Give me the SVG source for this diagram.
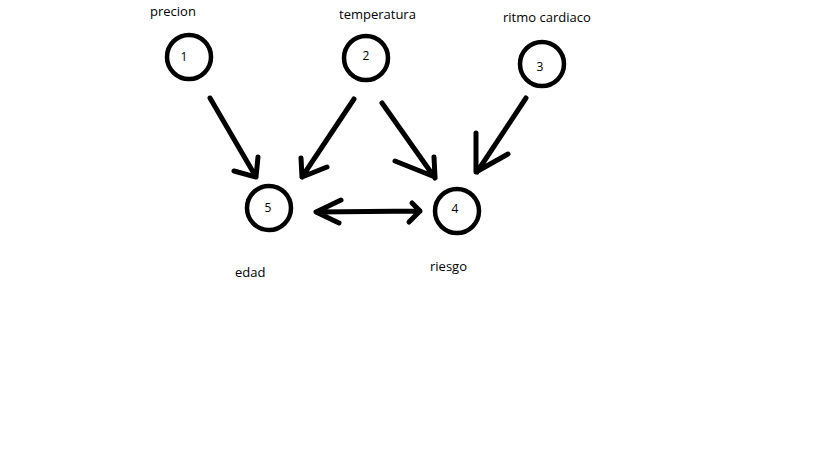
<svg xmlns="http://www.w3.org/2000/svg" width="819" height="460" viewBox="0 0 819 460">
<style>
.node{fill:none;stroke:#000;stroke-width:4.5}
.num{font-family:"Open Sans","Liberation Sans",sans-serif;font-size:12px;fill:#000;text-anchor:middle}
.lbl{font-family:"Open Sans","Liberation Sans",sans-serif;font-size:13px;fill:#000}
.edge{fill:none;stroke:#000;stroke-width:5;stroke-linecap:round;stroke-linejoin:round}
</style>
<rect width="819" height="460" fill="#fff"/>
<g id="node1"><circle class="node" cx="189" cy="57" r="22"/><text class="num" x="184" y="61">1</text><text class="lbl" x="150" y="16">precion</text></g>
<g id="node2"><circle class="node" cx="366" cy="58" r="22"/><text class="num" x="366" y="60">2</text><text class="lbl" x="339" y="19">temperatura</text></g>
<g id="node3"><circle class="node" cx="542" cy="64" r="22"/><text class="num" x="540" y="71">3</text><text class="lbl" x="503" y="22">ritmo cardiaco</text></g>
<g id="node5"><circle class="node" cx="269" cy="208" r="22"/><text class="num" x="268" y="212">5</text><text class="lbl" x="235" y="277">edad</text></g>
<g id="node4"><circle class="node" cx="457" cy="211" r="22"/><text class="num" x="455" y="213">4</text><text class="lbl" x="430" y="271">riesgo</text></g>
<g id="connectors">
<path class="edge" d="M210 98 L256 177 M234 171 L256 177 L258 157"/>
<path class="edge" d="M354 99 L302 177 M301 158 L302 177 L327 167"/>
<path class="edge" d="M382 103 L435 178 M395 161 L435 177 L434 157"/>
<path class="edge" d="M526 98 L477 172 M476 133 L476 172 L508 154"/>
<path class="edge" d="M316 212 L420 211 M341 200 L316 212 L339 223 M412 203 L420 211 L409 222"/>
</g>
</svg>
